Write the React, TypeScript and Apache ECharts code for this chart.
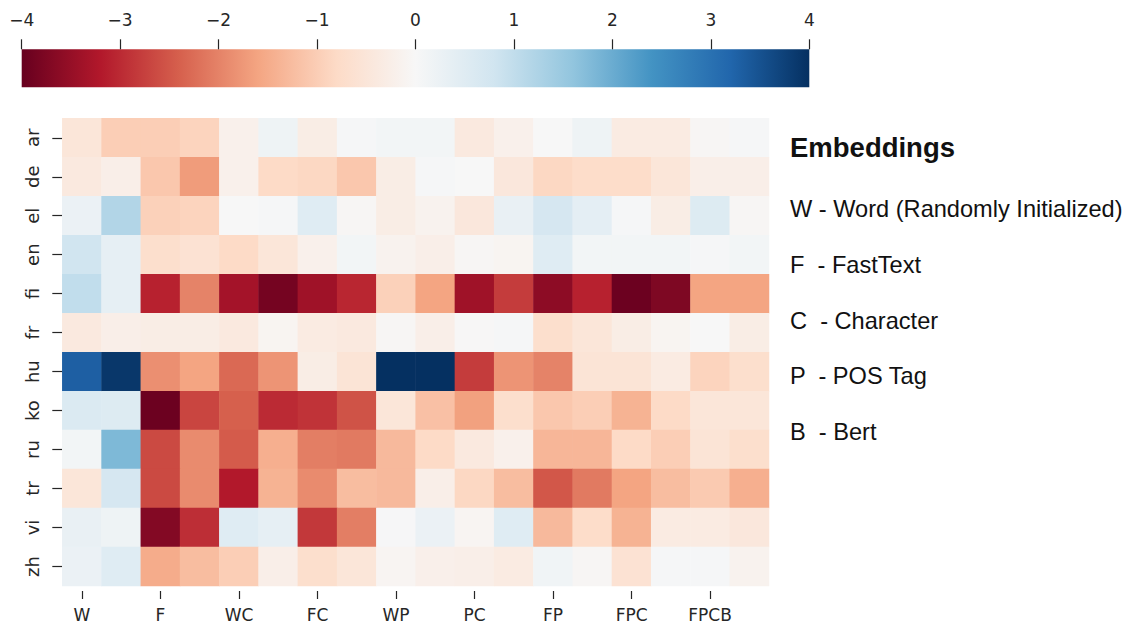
import React, { useEffect, useRef } from "react";
import * as echarts from "echarts";

const rows = ["ar", "de", "el", "en", "fi", "fr", "hu", "ko", "ru", "tr", "vi", "zh"];
const columns = ["W", "", "F", "", "WC", "", "FC", "", "WP", "", "PC", "", "FP", "", "FPC", "", "FPCB", ""];

const ar = [-0.5, -1.0, -1.0, -0.9, -0.2, 0.2, -0.3, 0.05, 0.1, 0.1, -0.4, -0.2, 0, 0.2, -0.35, -0.35, -0.05, 0.05];
const de = [-0.4, -0.25, -1.1, -1.7, -0.2, -0.8, -0.85, -1.1, -0.3, 0.05, 0, -0.45, -0.85, -0.75, -0.75, -0.5, -0.25, -0.25];
const el = [0.25, 1.2, -0.95, -0.9, 0, 0.05, 0.5, -0.05, -0.3, -0.15, -0.45, 0.3, 0.7, 0.4, 0.05, -0.3, 0.55, -0.05];
const en = [0.8, 0.35, -0.7, -0.6, -0.8, -0.5, -0.2, 0.1, -0.15, -0.25, -0.05, -0.1, 0.5, 0.1, 0.1, 0.1, 0.05, 0.1];
const fi = [1.0, 0.35, -3.1, -2.0, -3.35, -3.85, -3.4, -3.05, -0.95, -1.6, -3.4, -2.8, -3.6, -3.1, -3.95, -3.75, -1.6, -1.6];
const fr = [-0.4, -0.25, -0.3, -0.3, -0.4, -0.1, -0.35, -0.4, -0.05, -0.25, -0.02, 0.05, -0.7, -0.5, -0.3, -0.1, 0, -0.3];
const hu = [3.3, 3.9, -1.85, -1.6, -2.3, -1.8, -0.3, -0.55, 4, 4, -2.8, -1.8, -2.0, -0.55, -0.55, -0.35, -0.9, -0.7];
const ko = [0.6, 0.55, -3.95, -2.7, -2.4, -3.0, -2.9, -2.55, -0.5, -1.2, -1.65, -0.7, -1.1, -1.0, -1.4, -0.8, -0.5, -0.5];
const ru = [0.1, 1.8, -2.65, -1.9, -2.45, -1.45, -2.05, -2.1, -1.3, -0.8, -0.4, -0.2, -1.35, -1.35, -0.8, -1.0, -0.55, -0.7];
const tr = [-0.5, 0.7, -2.65, -1.9, -3.2, -1.4, -1.9, -1.25, -1.3, -0.25, -0.85, -1.25, -2.5, -2.1, -1.6, -1.25, -1.05, -1.45];
const vi = [0.3, 0.2, -3.7, -2.95, 0.5, 0.35, -2.85, -2.05, 0.03, 0.25, -0.08, 0.5, -1.3, -0.75, -1.4, -0.35, -0.35, -0.45];
const zh = [0.25, 0.5, -1.5, -1.25, -1.0, -0.25, -0.7, -0.5, -0.08, -0.22, -0.25, -0.35, 0.15, -0.05, -0.6, 0.05, 0.05, -0.15];
const matrix = [ar, de, el, en, fi, fr, hu, ko, ru, tr, vi, zh];

const colorbarTicks = [-4, -3, -2, -1, 0, 1, 2, 3, 4];
const legendTitle = "Embeddings";
const legendItems = [
  "W - Word (Randomly Initialized)",
  "F  - FastText",
  "C  - Character",
  "P  - POS Tag",
  "B  - Bert",
];

const rdbu = [
  "#67001f", "#b2182b", "#d6604d", "#f4a582", "#fddbc7", "#f7f7f7",
  "#d1e5f0", "#92c5de", "#4393c3", "#2166ac", "#053061",
];

const HM = { left: 62.3, top: 118.3, width: 706.7, height: 468.2 };
const CB = { left: 21.7, top: 49.3, width: 787.6, height: 38 };
const TXT = "#262626";

export default function App() {
  const ref = useRef<HTMLDivElement>(null);
  useEffect(() => {
    if (!ref.current) return;
    const chart = echarts.init(ref.current, undefined, { renderer: "svg" });
    const data: number[][] = [];
    matrix.forEach((row, r) => row.forEach((v, c) => data.push([c, r, v])));
    const minus = (v: number) => (v < 0 ? "\u2212" + Math.abs(v) : String(v));
    const option: any = {
      animation: false,
      backgroundColor: "#ffffff",
      grid: [
        { left: HM.left, top: HM.top, width: HM.width, height: HM.height },
        { left: CB.left, top: CB.top, width: CB.width, height: CB.height },
      ],
      xAxis: [
        {
          type: "category",
          gridIndex: 0,
          data: columns,
          position: "bottom",
          offset: 5,
          axisLine: { show: false },
          axisTick: { show: true, alignWithLabel: true, interval: 1, length: 8, lineStyle: { color: TXT, width: 1.2 } },
          axisLabel: { interval: 1, margin: 15, fontSize: 17, color: TXT, fontFamily: "DejaVu Sans" },
          splitLine: { show: false },
        },
        {
          type: "value",
          gridIndex: 1,
          min: colorbarTicks[0],
          max: colorbarTicks[colorbarTicks.length - 1],
          interval: 1,
          position: "top",
          axisLine: { show: false, onZero: false },
          axisTick: { show: true, inside: false, length: 10, lineStyle: { color: TXT, width: 1.2 } },
          axisLabel: { margin: 21, fontSize: 17, color: TXT, fontFamily: "DejaVu Sans", formatter: minus },
          splitLine: { show: false },
        },
      ],
      yAxis: [
        {
          type: "category",
          gridIndex: 0,
          data: rows,
          inverse: true,
          axisLine: { show: false },
          axisTick: { show: true, alignWithLabel: true, length: 10, lineStyle: { color: TXT, width: 1.2 } },
          axisLabel: { rotate: 90, margin: 21, fontSize: 18, color: TXT, fontFamily: "DejaVu Sans" },
          splitLine: { show: false },
        },
        { type: "value", gridIndex: 1, show: false, min: 0, max: 1 },
      ],
      visualMap: {
        show: false,
        type: "continuous",
        min: -4,
        max: 4,
        dimension: 2,
        seriesIndex: 0,
        inRange: { color: rdbu },
      },
      series: [
        {
          type: "heatmap",
          xAxisIndex: 0,
          yAxisIndex: 0,
          data,
          itemStyle: { borderWidth: 0 },
          emphasis: { disabled: true },
        },
      ],
      graphic: [
        {
          type: "rect",
          z: -10,
          shape: { x: CB.left, y: CB.top, width: CB.width, height: CB.height },
          style: {
            fill: new echarts.graphic.LinearGradient(0, 0, 1, 0,
              rdbu.map((c, i) => ({ offset: i / (rdbu.length - 1), color: c }))),
          },
        },
        {
          type: "text",
          x: 790,
          y: 147,
          style: {
            text: legendTitle,
            fontSize: 27.5,
            fontWeight: "bold",
            fontFamily: "Liberation Sans",
            fill: "#111111",
            verticalAlign: "middle",
          },
        },
        ...legendItems.map((t, i) => ({
          type: "text",
          x: 790,
          y: 209 + i * 55.8,
          style: {
            text: t,
            fontSize: 23.6,
            fontFamily: "Liberation Sans",
            fill: "#111111",
            verticalAlign: "middle",
          },
        })),
      ],
    };
    chart.setOption(option);
    return () => chart.dispose();
  }, []);
  return (
    <div
      ref={ref}
      style={{ position: "fixed", left: 0, top: 0, width: 1133, height: 623 }}
    />
  );
}
